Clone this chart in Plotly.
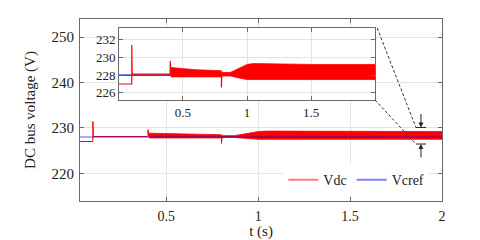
import plotly.graph_objects as go

# ---------------- data ----------------
# Vdc: step/spike skeleton line
vdc_t = [0.0, 0.1, 0.1, 0.103, 0.4, 0.4, 0.405, 0.8, 0.8, 0.803, 0.87, 0.93, 1.0, 2.0]
vdc_v = [227.0, 227.0, 231.4, 228.1, 228.1, 229.6, 228.2, 228.1, 226.6, 228.1, 228.1, 228.3, 228.4, 228.4]

# Vdc ripple band (upper / lower envelopes)
band_t = [0.405, 0.45, 0.6, 0.8, 0.8, 0.87, 0.93, 1.0, 1.05, 1.5, 2.0]
band_hi = [228.85, 228.8, 228.6, 228.5, 228.3, 228.3, 228.7, 229.2, 229.3, 229.2, 229.2]
band_lo = [227.8, 227.8, 227.8, 227.8, 227.9, 227.9, 227.7, 227.5, 227.5, 227.5, 227.5]

# Vcref reference
ref_t = [0.0, 2.0]
ref_v = [228.0, 228.0]

# axes
main_xrange = [0.03, 2.0]
main_yrange = [213.9, 254.0]
main_xticks = [0.5, 1, 1.5, 2]
main_yticks = [220, 230, 240, 250]
ins_xrange = [0.0, 2.0]
ins_yrange = [225.2, 233.3]
ins_xticks = [0.5, 1, 1.5]
ins_yticks = [226, 228, 230, 232]

# zoom marker on the main plot
zoom_t = [1.858, 1.913]
zoom_lo, zoom_hi = 226.45, 230.1

RED = "#ff0000"
BLUE = "#0000ff"
FRAME = "#6a6a6a"
GRID = "#e3e3e3"
FONT = "Liberation Serif, Times New Roman, serif"

ins_dom_x = [0.1077, 0.815]
ins_dom_y = [0.555, 0.9505]

fig = go.Figure()

band_x = band_t + band_t[::-1]
band_y = band_hi + band_lo[::-1]

# ---- main axes: red first, blue on top
fig.add_trace(go.Scatter(x=band_x, y=band_y, fill="toself", mode="lines",
                         line=dict(color=RED, width=0.8), fillcolor=RED,
                         showlegend=False, hoverinfo="skip"))
fig.add_trace(go.Scatter(x=vdc_t, y=vdc_v, mode="lines", line=dict(color=RED, width=1),
                         showlegend=False))
fig.add_trace(go.Scatter(x=ref_t, y=ref_v, mode="lines", line=dict(color=BLUE, width=1),
                         opacity=0.65, showlegend=False))

# ---- inset axes: blue first, red on top
fig.add_trace(go.Scatter(x=ref_t, y=ref_v, mode="lines", line=dict(color=BLUE, width=1.2),
                         xaxis="x2", yaxis="y2", showlegend=False))
fig.add_trace(go.Scatter(x=band_x, y=band_y, fill="toself", mode="lines",
                         line=dict(color=RED, width=0.8), fillcolor=RED,
                         xaxis="x2", yaxis="y2", showlegend=False, hoverinfo="skip"))
fig.add_trace(go.Scatter(x=vdc_t, y=vdc_v, mode="lines", line=dict(color=RED, width=1.2),
                         xaxis="x2", yaxis="y2", showlegend=False))

# ---- legend entries (faded, as in the reference)
fig.add_trace(go.Scatter(x=[None], y=[None], mode="lines", name="Vdc",
                         line=dict(color="#ff7a7a", width=2)))
fig.add_trace(go.Scatter(x=[None], y=[None], mode="lines", name="Vcref",
                         line=dict(color="#8080ff", width=2)))

axis_common = dict(showline=True, linecolor=FRAME, linewidth=1, mirror="ticks",
                   ticks="inside", ticklen=4, tickcolor=FRAME, showgrid=True,
                   gridcolor=GRID, gridwidth=1, zeroline=False, automargin=False)

fig.update_layout(
    width=480, height=240,
    margin=dict(l=80, r=38, t=19, b=39),
    paper_bgcolor="white", plot_bgcolor="white",
    font=dict(family=FONT, size=15, color="#222222"),
    xaxis=dict(range=main_xrange, tickvals=main_xticks, ticktext=["0.5", "1", "1.5", "2"],
               domain=[0, 1], title=dict(text="t (s)", standoff=0, font=dict(size=15)),
               tickfont=dict(size=14), ticklabelstandoff=2, **axis_common),
    yaxis=dict(range=main_yrange, tickvals=main_yticks, domain=[0, 1],
               title=dict(text="DC bus voltage (V)", standoff=12, font=dict(size=15)),
               tickfont=dict(size=15), ticklabelstandoff=2, **axis_common),
    xaxis2=dict(range=ins_xrange, tickvals=ins_xticks, ticktext=["0.5", "1", "1.5"],
                domain=ins_dom_x, anchor="y2", tickfont=dict(size=13), **axis_common),
    yaxis2=dict(range=ins_yrange, tickvals=ins_yticks, domain=ins_dom_y, anchor="x2",
                tickfont=dict(size=13), **axis_common),
    legend=dict(orientation="h", x=0.965, xanchor="right", y=0.115, yanchor="middle",
                bgcolor="white", font=dict(size=14), itemwidth=30,
                tracegroupgap=0, borderwidth=0),
    showlegend=True,
)

# white background behind the inset (in the inset subplot's own lower shape layer)
fig.add_shape(type="rect", xref="x2", yref="y2",
              x0=ins_xrange[0], x1=ins_xrange[1], y0=ins_yrange[0], y1=ins_yrange[1],
              fillcolor="white", line=dict(width=0), layer="below")


def px(t):
    return (t - main_xrange[0]) / (main_xrange[1] - main_xrange[0])


def py(v):
    return (v - main_yrange[0]) / (main_yrange[1] - main_yrange[0])


# dashed connectors from the inset corners to the zoom marker
fig.add_shape(type="line", xref="paper", yref="paper",
              x0=ins_dom_x[1] + 0.006, y0=ins_dom_y[1], x1=px(zoom_t[0]), y1=py(zoom_hi),
              line=dict(color="#333333", width=1, dash="3px,2px"), layer="above")
fig.add_shape(type="line", xref="paper", yref="paper",
              x0=ins_dom_x[1], y0=ins_dom_y[0], x1=px(zoom_t[0]), y1=py(zoom_lo),
              line=dict(color="#333333", width=1, dash="3px,2px"), layer="above")

# horizontal bars of the zoom marker
for v in (zoom_hi, zoom_lo):
    fig.add_shape(type="line", xref="x", yref="y", x0=zoom_t[0], x1=zoom_t[1], y0=v, y1=v,
                  line=dict(color="#222222", width=1), layer="above")

tc = (zoom_t[0] + zoom_t[1]) / 2
fig.add_annotation(x=tc, y=zoom_hi, xref="x", yref="y", ax=0, ay=-15, text="",
                   showarrow=True, arrowhead=2, arrowsize=1, arrowwidth=1, arrowcolor="#222222")
fig.add_annotation(x=tc, y=zoom_lo, xref="x", yref="y", ax=0, ay=15, text="",
                   showarrow=True, arrowhead=2, arrowsize=1, arrowwidth=1, arrowcolor="#222222")

fig.write_html("out.html", config={"displayModeBar": False},
               post_script="document.body.style.margin='0';document.body.style.overflow='hidden';")
